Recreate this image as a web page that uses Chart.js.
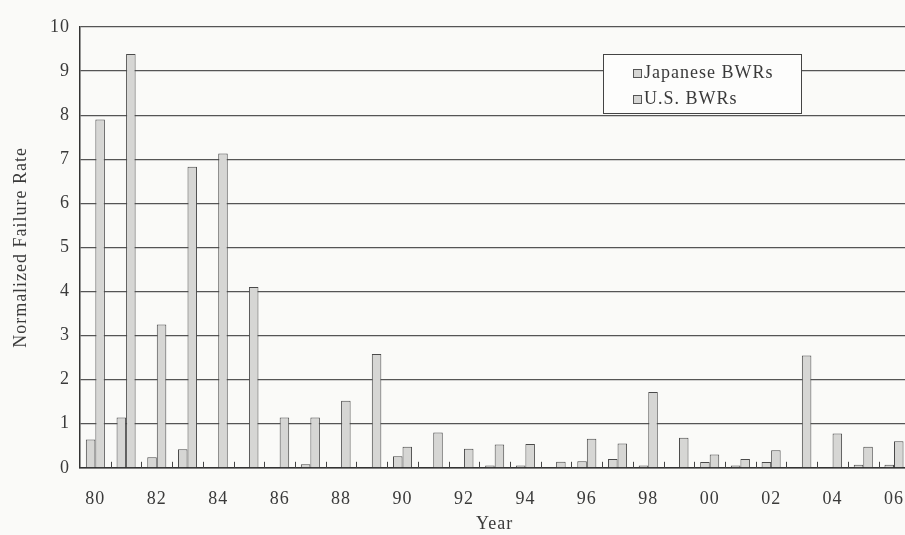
<!DOCTYPE html>
<html>
<head>
<meta charset="utf-8">
<script src="https://cdn.jsdelivr.net/npm/chart.js@4.4.1/dist/chart.umd.min.js"></script>
<style>
  html, body { margin: 0; padding: 0; background: #fafaf8; overflow: hidden; }
  #wrap { width: 916px; height: 535px; position: relative; overflow: hidden; }
</style>
</head>
<body>
<div id="wrap"><canvas id="c" width="916" height="538"></canvas></div>
<script>
// ---- data ----
const years = ['80','81','82','83','84','85','86','87','88','89','90','91','92','93','94','95','96','97','98','99','00','01','02','03','04','05','06'];
const japaneseBWRs = [0.64,1.14,0.24,0.42,0,0,0,0.08,0,0,0.26,0,0,0.05,0.05,0,0.15,0.2,0.05,0,0.13,0.05,0.13,0,0,0.07,0.07];
const usBWRs = [7.9,9.39,3.25,6.83,7.13,4.1,1.14,1.14,1.52,2.58,0.48,0.8,0.43,0.53,0.54,0.14,0.66,0.55,1.72,0.68,0.3,0.2,0.4,2.55,0.78,0.48,0.6];
const yTicks = [0,1,2,3,4,5,6,7,8,9,10];

const FONT = '"Liberation Serif", "DejaVu Serif", serif';
const TXT = '#3a3a3a';
const BAR_FILL = '#d6d6d4';
const BAR_EDGE = '#4a4a4a';

// wide letter spacing like the printed figure
const spacing = {
  id: 'spacing',
  beforeDraw(chart) { chart.ctx.letterSpacing = '1px'; }
};

// short boundary ticks between categories, drawn from the x scale
const boundaryTicks = {
  id: 'boundaryTicks',
  afterDatasetsDraw(chart) {
    const x = chart.scales.x, area = chart.chartArea, ctx = chart.ctx;
    ctx.save();
    ctx.strokeStyle = '#444';
    ctx.lineWidth = 1;
    for (let i = 1; i < years.length; i++) {
      const px = Math.round((x.getPixelForValue(i - 1) + x.getPixelForValue(i)) / 2) + 0.5;
      ctx.beginPath();
      ctx.moveTo(px, area.bottom);
      ctx.lineTo(px, area.bottom - 6);
      ctx.stroke();
    }
    ctx.restore();
  }
};

// legend box inside plot area
const boxLegend = {
  id: 'boxLegend',
  afterDraw(chart) {
    const ctx = chart.ctx;
    const bx = 603, by = 54, bw = 198, bh = 59;
    ctx.save();
    ctx.letterSpacing = '1px';
    ctx.fillStyle = '#fdfdfc';
    ctx.fillRect(bx, by, bw, bh);
    ctx.strokeStyle = '#444';
    ctx.lineWidth = 1;
    ctx.strokeRect(bx + 0.5, by + 0.5, bw, bh);
    ctx.font = '18px ' + FONT;
    ctx.textBaseline = 'middle';
    chart.data.datasets.forEach((ds, i) => {
      const cy = by + 19 + i * 26;
      ctx.fillStyle = ds.backgroundColor;
      ctx.fillRect(633, cy - 4, 9, 9);
      ctx.strokeStyle = '#555';
      ctx.strokeRect(633.5, cy - 3.5, 8, 8);
      ctx.fillStyle = TXT;
      ctx.fillText(ds.label, 644, cy);
    });
    ctx.restore();
  }
};

new Chart(document.getElementById('c'), {
  type: 'bar',
  data: {
    labels: years,
    datasets: [
      { label: 'Japanese BWRs', data: japaneseBWRs, backgroundColor: BAR_FILL, borderColor: BAR_EDGE, borderWidth: 1, borderSkipped: 'bottom' },
      { label: 'U.S. BWRs', data: usBWRs, backgroundColor: BAR_FILL, borderColor: BAR_EDGE, borderWidth: 1, borderSkipped: 'bottom' }
    ]
  },
  options: {
    responsive: false,
    animation: false,
    devicePixelRatio: 1,
    layout: { padding: { top: 27, right: 0, bottom: 3, left: 6 } },
    plugins: { legend: { display: false }, tooltip: { enabled: false } },
    datasets: { bar: { categoryPercentage: 0.62, barPercentage: 1.0 } },
    scales: {
      x: {
        grid: { display: false },
        border: { color: '#333', width: 1.5 },
        ticks: {
          color: TXT, font: { family: FONT, size: 18 }, maxRotation: 0, autoSkip: false, padding: 13,
          callback: (v, i) => (i % 2 === 0 ? years[i] : '')
        },
        title: { display: true, text: 'Year', color: TXT, font: { family: FONT, size: 18 }, padding: { top: -10, bottom: 0 } }
      },
      y: {
        min: 0, max: 10,
        afterBuildTicks: (s) => { s.ticks = yTicks.map(v => ({ value: v })); },
        afterFit: (s) => { s.width = 74; },
        grid: { color: '#555', lineWidth: 1.2, drawTicks: false },
        border: { color: '#333', width: 1.5 },
        ticks: { color: TXT, font: { family: FONT, size: 18 }, padding: 10 },
        title: { display: true, text: 'Normalized Failure Rate', color: TXT, font: { family: FONT, size: 18 }, padding: { bottom: 2 } }
      }
    }
  },
  plugins: [spacing, boundaryTicks, boxLegend]
});
</script>
</body>
</html>
